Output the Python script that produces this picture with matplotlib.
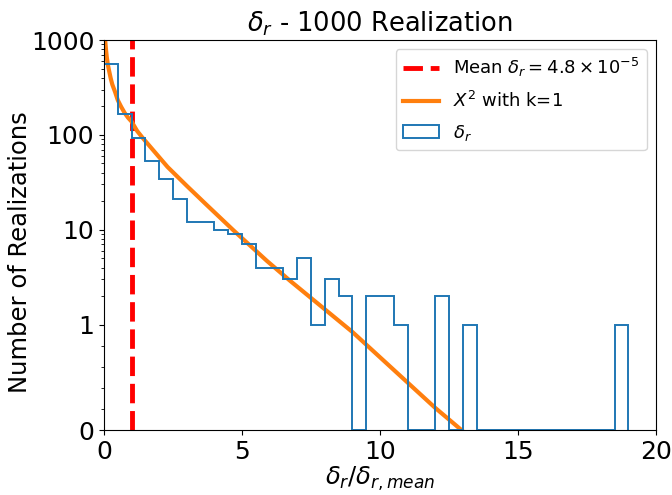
import numpy as np
import matplotlib
matplotlib.use("Agg")
import matplotlib.pyplot as plt
from matplotlib.ticker import FixedLocator, FixedFormatter

# Histogram (bin edges and counts)
bin_edges = [0.0, 0.5, 1.0, 1.5, 2.0, 2.5, 3.0, 3.5, 4.0, 4.5, 5.0, 5.5, 6.0, 6.5,
             7.0, 7.5, 8.0, 8.5, 9.0, 9.5, 10.0, 10.5, 11.0, 11.5, 12.0, 12.5, 13.0,
             13.5, 14.0, 14.5, 15.0, 15.5, 16.0, 16.5, 17.0, 17.5, 18.0, 18.5, 19.0]
counts = [553, 166, 92, 53, 34, 21, 12, 12, 10, 9, 7, 4, 4, 3,
          5, 1, 3, 2, 0, 2, 2, 1, 0, 0, 2, 0, 1,
          0, 0, 0, 0, 0, 0, 0, 0, 0, 0, 1]

# Chi-square curve, points
curve_x = [0.04, 0.07, 0.1, 0.14, 0.18, 0.24, 0.3, 0.4, 0.5, 0.62, 0.75, 0.87,
           1.0, 1.2, 1.4, 1.8, 2.3, 3.0, 3.7, 4.7, 5.9, 6.74, 8.0, 9.0, 10.0,
           11.0, 12.0, 12.95]
curve_y = [1000, 800, 660, 547, 480, 397, 340, 284, 232, 198, 170, 152,
           138, 110, 93, 68, 46, 29, 18.5, 9.8, 4.7, 2.9, 1.45, 0.93, 0.69,
           0.45, 0.21, 0.0]

mean_x = 1.0

y_ticks = [0, 1, 10, 100, 1000]
y_ticklabels = ["0", "1", "10", "100", "1000"]
x_ticks = [0, 5, 10, 15, 20]

fig = plt.figure(figsize=(6.72, 4.95), dpi=100)
ax = fig.add_axes([0.1548, 0.1313, 0.8214, 0.7878])

ax.axvline(mean_x, color="red", linestyle=(0, (4, 1.6)), lw=3.5,
           label=r"Mean $\delta_r = 4.8 \times 10^{-5}$")
ax.plot(curve_x, curve_y, color="#ff7f0e", lw=3, label=r"$X^2$ with k=1")
ax.hist(bin_edges[:-1], bins=bin_edges, weights=counts, histtype="step",
        color="#1f77b4", lw=1.4, label=r"$\delta_r$")

ax.set_yscale("symlog", linthresh=1)
ax.set_ylim(0, 1000)
ax.set_xlim(0, 20)
ax.yaxis.set_major_locator(FixedLocator(y_ticks))
ax.yaxis.set_major_formatter(FixedFormatter(y_ticklabels))
minor = [0.2, 0.4, 0.6, 0.8] + [m * d for d in (1, 10, 100) for m in range(2, 10)]
ax.yaxis.set_minor_locator(FixedLocator(minor))
ax.set_xticks(x_ticks)
ax.tick_params(axis="both", which="major", labelsize=18)

ax.set_title(r"$\delta_r$ - 1000 Realization", fontsize=18.5)
ax.set_xlabel(r"$\delta_r/\delta_{r,mean}$", fontsize=17.5, labelpad=1)
ax.set_ylabel("Number of Realizations", fontsize=17.5)
ax.yaxis.set_label_coords(-0.13, 0.456)

ax.legend(loc="upper right", fontsize=13, labelspacing=0.65)

fig.savefig("out.png", dpi=100)
